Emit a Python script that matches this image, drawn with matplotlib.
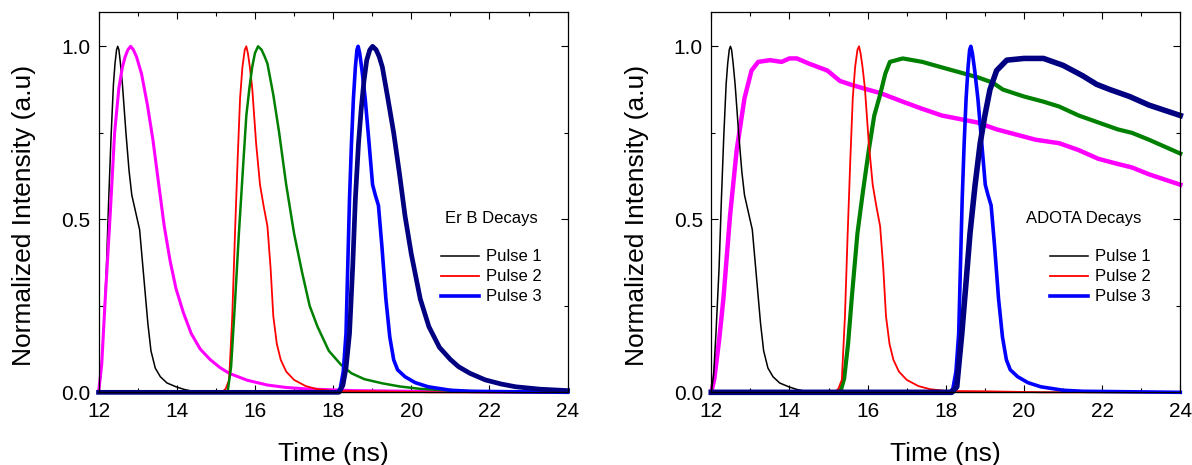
import matplotlib
matplotlib.use("Agg")
import matplotlib.pyplot as plt
from matplotlib.ticker import MultipleLocator, FormatStrFormatter

plt.rcParams['font.family'] = ['Liberation Sans', 'DejaVu Sans']

# ---------------- data (time in ns, normalized intensity) ----------------
# Instrument pulses (same in both panels)
pulse1_t = [12.0, 12.06, 12.12, 12.2, 12.26, 12.32, 12.38, 12.42, 12.46, 12.49, 12.52, 12.56,
            12.61, 12.70, 12.78, 12.85, 12.95, 13.05, 13.12, 13.19, 13.26, 13.34, 13.45, 13.58,
            13.75, 13.98, 14.2, 14.46, 15.0, 24.0]
pulse1_y = [0.0, 0.05, 0.17, 0.36, 0.56, 0.74, 0.89, 0.95, 0.99, 1.0, 0.99, 0.95,
            0.89, 0.75, 0.64, 0.57, 0.52, 0.47, 0.38, 0.29, 0.20, 0.12, 0.07, 0.045,
            0.027, 0.016, 0.008, 0.002, 0.0, 0.0]

pulse2_t = [12.0, 15.15, 15.25, 15.34, 15.42, 15.49, 15.56, 15.62, 15.68, 15.74, 15.78, 15.82,
            15.87, 15.93, 16.03, 16.13, 16.22, 16.32, 16.40, 16.47, 16.56, 16.66, 16.8, 17.0,
            17.3, 17.6, 18.0, 19.0, 20.5, 24.0]
pulse2_y = [0.0, 0.0, 0.01, 0.036, 0.22, 0.46, 0.68, 0.85, 0.94, 0.99, 1.0, 0.98,
            0.94, 0.88, 0.72, 0.60, 0.54, 0.48, 0.36, 0.22, 0.14, 0.094, 0.06, 0.036,
            0.018, 0.009, 0.004, 0.003, 0.0, 0.0]

pulse3_t = [12.0, 18.1, 18.18, 18.26, 18.33, 18.42, 18.47, 18.52, 18.57, 18.61, 18.64, 18.68,
            18.74, 18.82, 18.92, 19.01, 19.08, 19.16, 19.25, 19.35, 19.45, 19.55, 19.65, 19.84,
            20.1, 20.43, 21.0, 21.5, 24.0]
pulse3_y = [0.0, 0.0, 0.01, 0.06, 0.17, 0.56, 0.72, 0.85, 0.94, 0.99, 1.0, 0.98,
            0.93, 0.85, 0.72, 0.60, 0.57, 0.54, 0.42, 0.27, 0.16, 0.094, 0.065, 0.045,
            0.028, 0.016, 0.006, 0.003, 0.0]

# Er B decays
erb1_t = [12.0, 12.08, 12.17, 12.3, 12.41, 12.52, 12.61, 12.68, 12.75, 12.82, 12.89, 12.97,
          13.1, 13.25, 13.39, 13.54, 13.68, 13.83, 13.98, 14.17, 14.37, 14.6, 14.86, 15.1,
          15.34, 15.8, 16.32, 16.8, 17.3, 18.5, 20.0, 24.0]
erb1_y = [0.0, 0.08, 0.27, 0.52, 0.75, 0.88, 0.94, 0.97, 0.99, 1.0, 0.99, 0.97,
          0.92, 0.83, 0.73, 0.60, 0.48, 0.38, 0.30, 0.23, 0.17, 0.125, 0.094, 0.072,
          0.055, 0.035, 0.021, 0.014, 0.01, 0.005, 0.003, 0.0]

erb2_t = [12.0, 15.3, 15.39, 15.49, 15.59, 15.69, 15.78, 15.86, 15.93, 16.0, 16.08, 16.17,
          16.25, 16.32, 16.47, 16.62, 16.8, 17.0, 17.2, 17.40, 17.6, 17.89, 18.2, 18.47,
          18.8, 19.26, 19.7, 20.23, 21.0, 22.0, 24.0]
erb2_y = [0.0, 0.0, 0.074, 0.26, 0.46, 0.64, 0.80, 0.88, 0.94, 0.98, 1.0, 0.99,
          0.97, 0.95, 0.86, 0.75, 0.60, 0.46, 0.35, 0.25, 0.19, 0.12, 0.08, 0.055,
          0.038, 0.026, 0.017, 0.01, 0.005, 0.002, 0.0]

erb3_t = [12.0, 18.15, 18.25, 18.33, 18.42, 18.50, 18.57, 18.65, 18.72, 18.79, 18.86, 18.94,
          19.01, 19.1, 19.18, 19.26, 19.4, 19.55, 19.7, 19.84, 20.0, 20.23, 20.45, 20.72,
          21.0, 21.21, 21.5, 21.89, 22.3, 22.67, 23.3, 24.0]
erb3_y = [0.0, 0.0, 0.02, 0.07, 0.17, 0.36, 0.56, 0.72, 0.82, 0.90, 0.96, 0.99,
          1.0, 0.99, 0.97, 0.94, 0.85, 0.75, 0.63, 0.51, 0.40, 0.27, 0.19, 0.13,
          0.095, 0.074, 0.055, 0.036, 0.024, 0.016, 0.009, 0.005]

# ADOTA decays
adota1_t = [12.0, 12.08, 12.2, 12.31, 12.48, 12.65, 12.85, 13.03, 13.2, 13.5, 13.8, 14.0,
            14.19, 14.5, 14.97, 15.29, 15.55, 16.0, 16.32, 16.9, 17.38, 17.9, 18.35, 18.8,
            19.3, 19.8, 20.3, 20.9, 21.4, 21.9, 22.4, 22.76, 23.2, 23.6, 24.0]
adota1_y = [0.0, 0.04, 0.15, 0.27, 0.51, 0.70, 0.85, 0.93, 0.955, 0.96, 0.955, 0.965,
            0.965, 0.95, 0.93, 0.90, 0.89, 0.875, 0.865, 0.84, 0.82, 0.80, 0.79, 0.78,
            0.76, 0.745, 0.73, 0.72, 0.70, 0.675, 0.66, 0.65, 0.63, 0.615, 0.60]

adota2_t = [12.0, 15.3, 15.4, 15.5, 15.6, 15.74, 15.88, 16.03, 16.17, 16.32, 16.45, 16.57,
            16.9, 17.4, 17.87, 18.35, 18.83, 19.2, 19.46, 20.0, 20.5, 20.9, 21.4, 21.9,
            22.4, 22.76, 23.2, 23.6, 24.0]
adota2_y = [0.0, 0.0, 0.04, 0.14, 0.28, 0.46, 0.58, 0.70, 0.80, 0.86, 0.92, 0.955,
            0.965, 0.955, 0.94, 0.925, 0.91, 0.895, 0.875, 0.855, 0.84, 0.826, 0.80, 0.78,
            0.76, 0.75, 0.73, 0.71, 0.69]

adota3_t = [12.0, 18.15, 18.28, 18.41, 18.52, 18.62, 18.75, 18.88, 19.0, 19.13, 19.3, 19.56,
            20.0, 20.5, 21.0, 21.5, 21.86, 22.2, 22.7, 23.2, 23.6, 24.0]
adota3_y = [0.0, 0.0, 0.016, 0.17, 0.32, 0.46, 0.60, 0.72, 0.80, 0.875, 0.93, 0.96,
            0.965, 0.965, 0.945, 0.915, 0.89, 0.875, 0.855, 0.83, 0.815, 0.80]

x_ticks = [12, 14, 16, 18, 20, 22, 24]
y_ticks = [0.0, 0.5, 1.0]
legend_labels = ['Pulse 1', 'Pulse 2', 'Pulse 3']
titles = ['Er B Decays', 'ADOTA Decays']

# ---------------- figure ----------------
fig = plt.figure(figsize=(11.92, 4.65), dpi=100)
ax1 = fig.add_axes([0.0827, 0.1563, 0.3935, 0.8185])
ax2 = fig.add_axes([0.5967, 0.1563, 0.3935, 0.8185])

BLACK, RED, BLUE = '#000000', '#ff0000', '#0000ff'
MAG, GRN, NAVY = '#ff00ff', '#008000', '#000080'


def style(ax):
    ax.set_xlim(12, 24)
    ax.set_ylim(0, 1.1)
    ax.set_xticks(x_ticks)
    ax.set_yticks(y_ticks)
    ax.xaxis.set_minor_locator(MultipleLocator(1))
    ax.yaxis.set_minor_locator(MultipleLocator(0.25))
    ax.yaxis.set_major_formatter(FormatStrFormatter('%.1f'))
    ax.tick_params(which='both', direction='in', top=True, right=True, width=0.8,
                   labelsize=15)
    ax.tick_params(which='major', length=5)
    ax.tick_params(which='minor', length=3)
    ax.tick_params(axis='x', which='major', pad=7)
    ax.tick_params(axis='y', which='major', pad=6)
    for s in ax.spines.values():
        s.set_linewidth(0.9)
    ax.set_xlabel('Time (ns)', fontsize=19, labelpad=15)
    ax.set_ylabel('Normalized Intensity (a.u)', fontsize=19)
    ax.yaxis.set_label_coords(-0.133, 0.465)


# left panel
l1, = ax1.plot(pulse1_t, pulse1_y, color=BLACK, lw=1.1, clip_on=False)
ax1.plot(erb1_t, erb1_y, color=MAG, lw=2.2, clip_on=False)
l2, = ax1.plot(pulse2_t, pulse2_y, color=RED, lw=1.3, clip_on=False)
ax1.plot(erb2_t, erb2_y, color=GRN, lw=1.8, clip_on=False)
l3, = ax1.plot(pulse3_t, pulse3_y, color=BLUE, lw=2.6, clip_on=False)
ax1.plot(erb3_t, erb3_y, color=NAVY, lw=3.4, clip_on=False)
style(ax1)
ax1.text(0.7386, 0.458, titles[0], transform=ax1.transAxes, ha='left', va='center',
         fontsize=12)
ax1.legend([l1, l2, l3], legend_labels, loc='center left', bbox_to_anchor=(0.730, 0.303),
           frameon=False, fontsize=12, handlelength=2.3, handletextpad=0.4,
           labelspacing=0.3, borderpad=0, borderaxespad=0)

# right panel
ax2.plot(adota1_t, adota1_y, color=MAG, lw=3.2, clip_on=False)
r1, = ax2.plot(pulse1_t, pulse1_y, color=BLACK, lw=1.1, clip_on=False)
ax2.plot(adota2_t, adota2_y, color=GRN, lw=3.0, clip_on=False)
r2, = ax2.plot(pulse2_t, pulse2_y, color=RED, lw=1.3, clip_on=False)
r3, = ax2.plot(pulse3_t, pulse3_y, color=BLUE, lw=2.6, clip_on=False)
ax2.plot(adota3_t, adota3_y, color=NAVY, lw=4.0, clip_on=False)
style(ax2)
ax2.text(0.671, 0.458, titles[1], transform=ax2.transAxes, ha='left', va='center',
         fontsize=12)
ax2.legend([r1, r2, r3], legend_labels, loc='center left', bbox_to_anchor=(0.722, 0.303),
           frameon=False, fontsize=12, handlelength=2.3, handletextpad=0.4,
           labelspacing=0.3, borderpad=0, borderaxespad=0)

fig.savefig('out.png', dpi=100)
